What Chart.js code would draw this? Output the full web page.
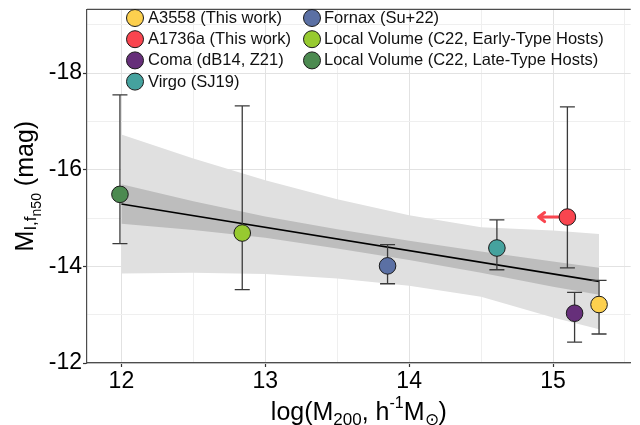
<!DOCTYPE html>
<html><head><meta charset="utf-8">
<script src="https://cdn.jsdelivr.net/npm/chart.js@4/dist/chart.umd.min.js"></script>
<style>html,body{margin:0;padding:0;background:#fff;}#wrap{width:640px;height:425px;position:relative;}</style>
</head><body><div id="wrap"><canvas id="c" width="640" height="425"></canvas></div>
<script>
const groups = ['A3558 (This work)', 'A1736a (This work)', 'Coma (dB14, Z21)', 'Virgo (SJ19)', 'Fornax (Su+22)', 'Local Volume (C22, Early-Type Hosts)', 'Local Volume (C22, Late-Type Hosts)'];
const colors = ['#FDD04E', '#F9454F', '#662F7A', '#45A29E', '#5B70A4', '#97CA30', '#4C8A50'];
const logM200 = [15.32, 15.10, 15.15, 14.61, 13.85, 12.84, 11.99];
const magFn50 = [-13.21, -15.02, -13.03, -14.38, -14.01, -14.69, -15.49];
const errBright = [-13.71, -17.30, -13.46, -14.96, -14.45, -17.32, -17.55];
const errFaint = [-12.60, -13.97, -12.43, -13.93, -13.64, -13.52, -14.47];
const arrowTo = [null, 14.90, null, null, null, null, null];
const fitX = [12, 15.32];
const fitY = [-15.29, -13.69];
const bandX = [12, 12.5, 13, 13.5, 14, 14.5, 15, 15.32];
const outerHi = [-16.73, -16.23, -15.78, -15.39, -15.06, -14.81, -14.74, -14.67];
const outerLo = [-13.85, -13.87, -13.84, -13.75, -13.60, -13.37, -12.94, -12.70];
const innerHi = [-15.70, -15.35, -15.03, -14.77, -14.53, -14.31, -14.10, -13.97];
const innerLo = [-14.88, -14.75, -14.59, -14.37, -14.13, -13.87, -13.58, -13.41];
const xMajor = [12, 13, 14, 15];
const xMinor = [12.5, 13.5, 14.5, 15.5];
const yMajor = [-12, -14, -16, -18];
const yMinor = [-13, -15, -17, -19];

const FONT = '"Liberation Sans", Arial, Helvetica, sans-serif';

const datasets = [];
groups.forEach((g, i) => {
  datasets.push({ label: g, gi: i, data: [{ x: logM200[i], y: magFn50[i] }],
    backgroundColor: colors[i], borderColor: '#1a1a1a', borderWidth: 1,
    pointRadius: 8.3, pointHoverRadius: 8.3, order: 1 });
});
datasets.push({ type: 'line', label: 'fit', data: fitX.map((x, k) => ({ x, y: fitY[k] })),
  borderColor: '#000', borderWidth: 1.6, pointRadius: 0, fill: false, order: 5 });
datasets.push({ type: 'line', label: 'inner-hi', data: bandX.map((x, k) => ({ x, y: innerHi[k] })),
  borderColor: 'rgba(0,0,0,0)', borderWidth: 0, pointRadius: 0, backgroundColor: '#bdbdbd', fill: '+1', order: 8 });
datasets.push({ type: 'line', label: 'inner-lo', data: bandX.map((x, k) => ({ x, y: innerLo[k] })),
  borderColor: 'rgba(0,0,0,0)', borderWidth: 0, pointRadius: 0, fill: false, order: 8 });
datasets.push({ type: 'line', label: 'outer-hi', data: bandX.map((x, k) => ({ x, y: outerHi[k] })),
  borderColor: 'rgba(0,0,0,0)', borderWidth: 0, pointRadius: 0, backgroundColor: '#e0e0e0', fill: '+1', order: 9 });
datasets.push({ type: 'line', label: 'outer-lo', data: bandX.map((x, k) => ({ x, y: outerLo[k] })),
  borderColor: 'rgba(0,0,0,0)', borderWidth: 0, pointRadius: 0, fill: false, order: 9 });

const errPlugin = {
  id: 'errbars',
  beforeDatasetDraw(chart, args) {
    const ds = chart.data.datasets[args.index];
    if (ds.gi === undefined) return;
    const i = ds.gi, ctx = chart.ctx;
    const xs = chart.scales.x, ys = chart.scales.y;
    const px = xs.getPixelForValue(logM200[i]);
    const py = ys.getPixelForValue(magFn50[i]);
    const p1 = ys.getPixelForValue(errBright[i]), p2 = ys.getPixelForValue(errFaint[i]);
    ctx.save();
    ctx.strokeStyle = '#3a3a3a'; ctx.lineWidth = 1.3;
    ctx.beginPath();
    ctx.moveTo(px, p1); ctx.lineTo(px, p2);
    ctx.moveTo(px - 7.5, p1); ctx.lineTo(px + 7.5, p1);
    ctx.moveTo(px - 7.5, p2); ctx.lineTo(px + 7.5, p2);
    ctx.stroke();
    if (arrowTo[i] !== null) {
      const tx = xs.getPixelForValue(arrowTo[i]);
      ctx.strokeStyle = colors[i]; ctx.lineWidth = 3; ctx.lineCap = 'round'; ctx.lineJoin = 'round';
      ctx.beginPath();
      ctx.moveTo(px, py); ctx.lineTo(tx, py);
      ctx.moveTo(tx + 6, py - 4.5); ctx.lineTo(tx, py); ctx.lineTo(tx + 6, py + 4.5);
      ctx.stroke();
    }
    ctx.restore();
  }
};

function drawRich(ctx, runs, cx, baseY) {
  let total = 0;
  runs.forEach(r => { ctx.font = r.size + 'px ' + FONT; r.w = ctx.measureText(r.t).width; total += r.w; });
  let x = cx - total / 2;
  ctx.textAlign = 'left'; ctx.textBaseline = 'alphabetic';
  runs.forEach(r => { ctx.font = r.size + 'px ' + FONT; ctx.fillText(r.t, x, baseY + r.dy); x += r.w; });
}

const decoPlugin = {
  id: 'deco',
  afterDraw(chart) {
    const ctx = chart.ctx, a = chart.chartArea;
    ctx.save();
    ctx.strokeStyle = '#4d4d4d'; ctx.lineWidth = 1.2;
    ctx.beginPath(); ctx.moveTo(a.left, a.top); ctx.lineTo(a.right, a.top); ctx.stroke();
    ctx.font = '16.5px ' + FONT; ctx.textBaseline = 'middle'; ctx.textAlign = 'left';
    const cols = [{ cx: 135, tx: 148 }, { cx: 312, tx: 324 }];
    groups.forEach((g, i) => {
      const col = i < 4 ? 0 : 1, row = i < 4 ? i : i - 4;
      const y = 18 + row * 21.2;
      ctx.beginPath(); ctx.arc(cols[col].cx, y, 8.5, 0, Math.PI * 2);
      ctx.fillStyle = colors[i]; ctx.fill();
      ctx.strokeStyle = '#1a1a1a'; ctx.lineWidth = 1; ctx.stroke();
      ctx.fillStyle = '#111';
      ctx.fillText(g, cols[col].tx, y + 0.5);
    });
    ctx.fillStyle = '#000';
    drawRich(ctx, [
      { t: 'log(M', size: 25, dy: 0 }, { t: '200', size: 17, dy: 5 }, { t: ', h', size: 25, dy: 0 },
      { t: '-1', size: 16, dy: -12 }, { t: 'M', size: 25, dy: 0 }, { t: '\u2299', size: 17, dy: 5 }, { t: ')', size: 25, dy: 0 }
    ], (a.left + a.right) / 2, 420);
    ctx.translate(33, (a.top + a.bottom) / 2);
    ctx.rotate(-Math.PI / 2);
    drawRich(ctx, [
      { t: 'M', size: 25, dy: 0 }, { t: 'I,f', size: 17, dy: 3 }, { t: 'n50', size: 14, dy: 8 }, { t: ' (mag)', size: 25, dy: 0 }
    ], 0, 0);
    ctx.restore();
  }
};

const gridColor = (major) => (c) => (c.tick && major.includes(c.tick.value)) ? '#e2e2e2' : '#efefef';
const tickColor = (major) => (c) => (c.tick && major.includes(c.tick.value)) ? '#333' : 'rgba(0,0,0,0)';

new Chart(document.getElementById('c'), {
  type: 'scatter',
  data: { datasets },
  options: {
    responsive: false, devicePixelRatio: 1, animation: false, events: [],
    layout: { padding: { top: 7, right: 0, left: 0, bottom: 0 } },
    plugins: { legend: { display: false }, tooltip: { enabled: false } },
    scales: {
      x: {
        type: 'linear', min: 11.761, max: 15.54,
        afterBuildTicks: s => { s.ticks = xMajor.concat(xMinor).sort((p, q) => p - q).map(v => ({ value: v })); },
        afterFit: s => { s.height = 62; s.paddingLeft = 0; s.paddingRight = 0; },
        grid: { color: gridColor(xMajor), lineWidth: 1, drawTicks: true, tickLength: 4, tickColor: tickColor(xMajor), tickWidth: 1.2 },
        border: { display: true, color: '#4d4d4d', width: 1.2 },
        ticks: { autoSkip: false, maxRotation: 0, padding: 1, color: '#000', font: { family: FONT, size: 23 },
          callback: v => xMajor.includes(v) ? String(v) : '' }
      },
      y: {
        type: 'linear', reverse: true, min: -19.32, max: -12,
        afterBuildTicks: s => { s.ticks = yMajor.concat(yMinor).sort((p, q) => p - q).map(v => ({ value: v })); },
        afterFit: s => { s.width = 87; s.paddingTop = 0; s.paddingBottom = 0; },
        grid: { color: gridColor(yMajor), lineWidth: 1, drawTicks: true, tickLength: 4, tickColor: tickColor(yMajor), tickWidth: 1.2 },
        border: { display: true, color: '#4d4d4d', width: 1.2 },
        ticks: { autoSkip: false, padding: 1, color: '#000', font: { family: FONT, size: 23 },
          callback: v => yMajor.includes(v) ? String(v) : '' }
      }
    }
  },
  plugins: [errPlugin, decoPlugin]
});
</script></body></html>
